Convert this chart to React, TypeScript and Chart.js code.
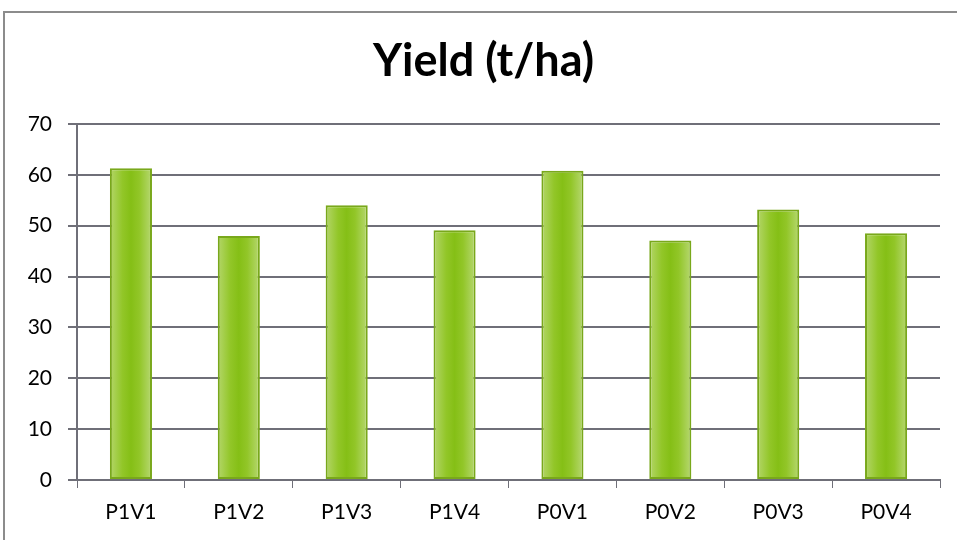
import React, { useEffect, useRef } from "react";
import { Chart, registerables } from "chart.js";

Chart.register(...registerables);

const categories = ["P1V1", "P1V2", "P1V3", "P1V4", "P0V1", "P0V2", "P0V3", "P0V4"];
const yieldValues = [61.3, 48.0, 54.0, 49.1, 60.8, 47.1, 53.2, 48.5];
const titleText = "Yield (t/ha)";
const yMin = 0;
const yMax = 70;
const yStep = 10;

const BAR_PCT = 0.39;

export default function App() {
  const canvasRef = useRef<HTMLCanvasElement | null>(null);

  useEffect(() => {
    const canvas = canvasRef.current;
    if (!canvas) return;

    const barFill = (ctx: any) => {
      const chart = ctx.chart;
      const xs = chart.scales?.x;
      if (!xs || !chart.chartArea || ctx.dataIndex === undefined) return "#8cc21f";
      const cx = xs.getPixelForValue(ctx.dataIndex);
      const catW = xs.width / categories.length;
      const w = catW * BAR_PCT;
      const g = chart.ctx.createLinearGradient(cx - w / 2, 0, cx + w / 2, 0);
      g.addColorStop(0, "#b4d66a");
      g.addColorStop(0.3, "#92c628");
      g.addColorStop(0.5, "#85bf16");
      g.addColorStop(0.7, "#92c628");
      g.addColorStop(1, "#b7d872");
      return g;
    };

    const chart = new Chart(canvas, {
      type: "bar",
      data: {
        labels: categories,
        datasets: [
          {
            label: "Yield",
            data: yieldValues,
            backgroundColor: barFill,
            borderColor: "#79a81b",
            borderWidth: 2,
            borderSkipped: false,
            barPercentage: BAR_PCT,
            categoryPercentage: 1,
          },
        ],
      },
      options: {
        responsive: false,
        animation: false,
        layout: { padding: { left: 27, right: 17, top: 0, bottom: 0 } },
        plugins: {
          legend: { display: false },
          tooltip: { enabled: false },
          title: {
            display: true,
            text: titleText,
            color: "#000000",
            font: { family: "Lato", size: 45, weight: "bold", lineHeight: 1.2 },
            padding: { top: 34, bottom: 36 },
          },
        },
        scales: {
          x: {
            afterFit: (s: any) => {
              s.height = 60;
            },
            grid: {
              display: true,
              drawOnChartArea: false,
              drawTicks: true,
              tickLength: 8,
              color: "#6f6f78",
              offset: true,
            },
            border: { display: true, color: "#6f6f78", width: 2 },
            ticks: {
              color: "#000000",
              font: { family: "Lato", size: 21 },
              padding: 12,
            },
          },
          y: {
            min: yMin,
            max: yMax,
            afterFit: (s: any) => {
              s.width = 50;
            },
            grid: {
              color: "#6f6f78",
              lineWidth: 2,
              tickLength: 9,
              drawTicks: true,
            },
            border: { display: true, color: "#6f6f78", width: 2 },
            ticks: {
              stepSize: yStep,
              color: "#000000",
              font: { family: "Lato", size: 21 },
              padding: 16,
            },
          },
        },
      },
    });

    return () => chart.destroy();
  }, []);

  return (
    <div style={{ position: "fixed", left: 0, top: 0, width: 957, height: 540, background: "#ffffff" }}>
      <div
        style={{
          position: "absolute",
          left: 3,
          top: 11,
          width: 960,
          height: 540,
          borderLeft: "2px solid #8c8c8c",
          borderTop: "2px solid #8c8c8c",
        }}
      />
      <canvas
        ref={canvasRef}
        width={957}
        height={540}
        style={{ position: "absolute", left: 0, top: 0, width: 957, height: 540 }}
      />
    </div>
  );
}
